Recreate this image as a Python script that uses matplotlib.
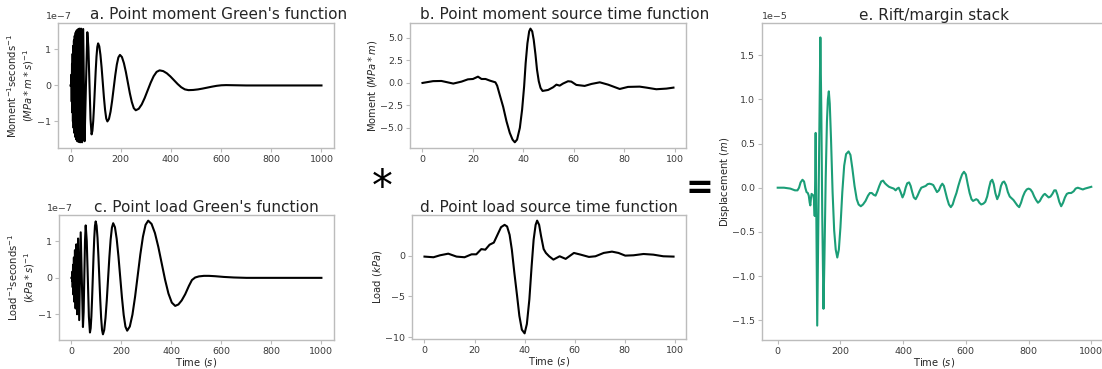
import matplotlib
matplotlib.use("Agg")
import matplotlib.pyplot as plt

# a. point moment Green's function (time in s, amplitude in 1e-7)
GREEN_MOMENT_T = [0, 3, 3.5, 4.8, 6, 7.2, 8.4, 9.6, 10.8, 12.2,
                  13.6, 15.2, 16.8, 18.6, 20.5, 22.5, 24.7, 27, 29.5, 32.2,
                  35.2, 38.4, 42, 46, 50.5, 56, 61.5, 67, 71.25, 75.5,
                  79.75, 84, 87.25, 90.5, 93.75, 97, 100.25, 103.5, 106.75, 110,
                  114.6, 119.25, 123.9, 128.5, 133.1, 137.75, 142.4, 147, 153.25, 159.5,
                  165.75, 172, 178.25, 184.5, 190.75, 197, 204.9, 212.75, 220.6, 228.5,
                  236.4, 244.25, 252.1, 260, 271.9, 283.75, 295.6, 307.5, 319.4, 331.25,
                  343.1, 355, 369.4, 383.75, 398.1, 412.5, 426.9, 441.25, 455.6, 470,
                  488.75, 507.5, 526, 545, 564, 582.5, 601, 620, 660, 700,
                  800, 900, 1000]
GREEN_MOMENT_V = [0, 0, 0.3, -0.45, 0.6, -0.75, 0.88, -1.0, 1.1, -1.18,
                  1.25, -1.32, 1.38, -1.43, 1.47, -1.5, 1.53, -1.55, 1.56, -1.57,
                  1.58, -1.58, 1.58, -1.58, 1.57, -1.55, 0.0, 1.48, 1.06, 0.06,
                  -0.94, -1.36, -1.26, -0.99, -0.58, -0.095, 0.39, 0.80, 1.07, 1.17,
                  1.09, 0.85, 0.50, 0.085, -0.33, -0.68, -0.92, -1.0, -0.93, -0.73,
                  -0.43, -0.075, 0.28, 0.58, 0.78, 0.85, 0.79, 0.62, 0.375, 0.08,
                  -0.215, -0.46, -0.63, -0.69, -0.648, -0.527, -0.347, -0.135, 0.077, 0.257,
                  0.378, 0.42, 0.399, 0.339, 0.25, 0.145, 0.04, -0.05, -0.109, -0.13,
                  -0.125, -0.11, -0.087, -0.06, -0.033, -0.01, 0.005, 0.01, 0.005, 0.0,
                  0, 0, 0]

# c. point load Green's function (time in s, amplitude in 1e-7)
GREEN_LOAD_T = [0, 1.8, 2.7, 3.8, 5, 6.4, 8, 9.8, 11.8, 14,
                16.5, 19.3, 22.5, 26.5, 31, 37, 46, 48.75, 51.5, 54.25,
                57, 61.25, 65.5, 69.75, 74, 76.9, 79.75, 82.6, 85.5, 88.4,
                91.25, 94.1, 97, 100.6, 104.25, 107.9, 111.5, 115.1, 118.75, 122.4,
                126, 131.1, 136.25, 141.4, 146.5, 151.6, 156.75, 161.9, 167, 174,
                181, 188, 195, 202, 209, 216, 223, 233.5, 244, 254.5,
                265, 275.5, 286, 296.5, 307, 320.5, 334, 347.5, 361, 374.5,
                388, 401.5, 415, 428, 441, 455, 470, 482, 495, 510,
                530, 550, 575, 610, 650, 700, 800, 1000]
GREEN_LOAD_V = [0, 0.03, -0.09, 0.17, -0.26, 0.36, -0.46, 0.56, -0.66, 0.76,
                -0.84, 0.92, -1.0, 1.08, -1.16, 1.25, -1.35, -0.94, 0.045, 1.03,
                1.44, 1.01, -0.03, -1.07, -1.5, -1.38, -1.05, -0.56, 0.025, 0.61,
                1.10, 1.43, 1.55, 1.43, 1.10, 0.59, 0, -0.59, -1.10, -1.43,
                -1.55, -1.43, -1.10, -0.61, -0.025, 0.56, 1.05, 1.38, 1.5, 1.39,
                1.07, 0.59, 0.025, -0.54, -1.02, -1.34, -1.45, -1.335, -1.01, -0.52,
                0.06, 0.64, 1.13, 1.455, 1.57, 1.48, 1.23, 0.85, 0.4, -0.05,
                -0.43, -0.68, -0.77, -0.73, -0.62, -0.45, -0.22, -0.06, 0.01, 0.04,
                0.055, 0.055, 0.045, 0.025, 0.01, 0, 0, 0]

# b. point moment source time function (MPa*m)
STF_MOMENT_T = [0, 4.2, 7.5, 12.2, 15.5, 18, 20, 22, 23.4, 25,
                26.7, 28.9, 29.6, 30.6, 32.0, 33.3, 34.6, 35.7, 36.6, 37.5,
                38.6, 39.5, 40.3, 40.9, 41.6, 42.3, 42.8, 43.5, 44.1, 44.8,
                45.4, 46.1, 46.8, 47.6, 49.8, 51.8, 53.1, 54.4, 55.7, 57.7,
                59, 61, 64.3, 67, 70.3, 73.6, 78.2, 81.5, 86.1, 88.8,
                92.7, 96.7, 99.5]
STF_MOMENT_V = [0.0, 0.2, 0.22, -0.07, 0.15, 0.4, 0.44, 0.7, 0.44, 0.44,
                0.26, 0.07, -0.3, -1.3, -2.67, -4.26, -5.55, -6.3, -6.6, -6.3,
                -5.0, -2.96, -0.37, 2.2, 4.4, 5.74, 6.04, 5.74, 4.8, 3.15,
                1.48, 0.19, -0.55, -0.89, -0.78, -0.48, -0.19, -0.3, -0.07, 0.19,
                0.15, -0.22, -0.33, -0.11, 0.07, -0.19, -0.67, -0.44, -0.41, -0.52,
                -0.7, -0.63, -0.52]

# d. point load source time function (kPa)
STF_LOAD_T = [0, 3.6, 6.2, 9.5, 12.8, 16, 18.8, 20.7, 22.7, 24.3,
              26, 27.7, 29.6, 30.6, 32.0, 33.0, 34.0, 34.9, 35.9, 37.0,
              37.9, 38.9, 40.0, 40.9, 41.9, 42.8, 43.6, 44.4, 45.0, 45.8,
              46.6, 47.6, 48.5, 49.8, 51.5, 54, 56.4, 59.7, 62.4, 65.7,
              68.3, 71.6, 74.9, 77.5, 80.2, 83.5, 87.5, 91.4, 95.4, 99.5]
STF_LOAD_V = [-0.12, -0.2, 0.04, 0.24, -0.12, -0.2, 0.16, 0.16, 0.8, 0.73,
              1.34, 1.6, 2.85, 3.5, 3.78, 3.58, 2.56, 0.73, -2.1, -4.96,
              -7.4, -9.1, -9.55, -8.4, -5.37, -1.3, 1.95, 3.78, 4.3, 3.78,
              2.36, 0.81, 0.33, -0.08, -0.49, -0.08, -0.4, 0.33, 0.12, -0.16,
              -0.08, 0.33, 0.49, 0.33, 0.0, 0.04, 0.2, 0.12, -0.08, -0.12]

# e. rift/margin stack (time in s, displacement in 1e-5 m)
STACK_T = [0, 20, 40, 55, 63, 68, 73, 79, 84, 88,
           92, 96, 99, 102, 104, 106, 108, 111, 114, 116,
           118, 119.5, 121, 123, 126, 129, 132, 136, 139, 142,
           146, 149, 153, 157, 160, 163, 166, 170, 175, 180,
           185, 190, 195, 200, 206, 212, 218, 226, 232, 238,
           245, 252, 258, 265, 272, 280, 288, 294, 300, 306,
           312, 318, 324, 330, 336, 342, 348, 355, 362, 370,
           376, 381, 386, 392, 398, 403, 408, 413, 419, 424,
           429, 434, 440, 446, 452, 458, 465, 472, 478, 484,
           490, 496, 502, 508, 514, 520, 525, 530, 535, 540,
           546, 552, 558, 564, 570, 576, 582, 588, 594, 600,
           606, 612, 618, 623, 628, 633, 638, 643, 649, 656,
           662, 668, 674, 679, 684, 689, 694, 700, 706, 712,
           717, 722, 728, 734, 740, 746, 752, 758, 764, 770,
           776, 782, 788, 794, 800, 806, 812, 818, 824, 830,
           836, 842, 848, 852, 858, 864, 870, 876, 882, 887,
           892, 898, 904, 910, 916, 922, 928, 936, 944, 950,
           957, 965, 973, 980, 990, 1000]
STACK_V = [0, 0, -0.01, -0.03, -0.03, 0.0, 0.06, 0.09, 0.07, 0.0,
           -0.05, -0.06, -0.09, -0.17, -0.2, -0.12, -0.07, -0.08, -0.09, -0.15,
           -0.32, 0.1, 0.62, -0.3, -1.56, -0.6, 0.4, 1.70, 0.9, -0.3,
           -1.37, -0.8, 0.1, 0.75, 1.0, 1.09, 0.95, 0.55, -0.05, -0.48,
           -0.7, -0.79, -0.7, -0.45, -0.05, 0.25, 0.38, 0.41, 0.37, 0.22,
           0.02, -0.13, -0.19, -0.21, -0.19, -0.15, -0.09, -0.06, -0.06, -0.08,
           -0.09, -0.04, 0.02, 0.07, 0.08, 0.05, 0.03, 0.01, 0.0, -0.01,
           -0.03, -0.01, 0.0, -0.05, -0.11, -0.07, 0.0, 0.05, 0.06, 0.02,
           -0.05, -0.11, -0.13, -0.09, -0.04, 0.0, 0.01, 0.02, 0.04, 0.045,
           0.04, 0.03, -0.01, -0.05, -0.03, 0.02, 0.045, 0.02, -0.05, -0.12,
           -0.19, -0.22, -0.19, -0.12, -0.06, 0.02, 0.09, 0.15, 0.18, 0.15,
           0.04, -0.06, -0.13, -0.15, -0.14, -0.13, -0.14, -0.17, -0.19, -0.18,
           -0.16, -0.1, 0.0, 0.07, 0.09, 0.04, -0.06, -0.13, -0.08, 0.02,
           0.06, 0.07, 0.03, -0.05, -0.1, -0.12, -0.14, -0.17, -0.2, -0.22,
           -0.17, -0.1, -0.05, -0.02, -0.01, -0.02, -0.05, -0.1, -0.14, -0.17,
           -0.15, -0.11, -0.08, -0.07, -0.09, -0.11, -0.1, -0.07, -0.03, -0.03,
           -0.08, -0.16, -0.21, -0.17, -0.11, -0.07, -0.06, -0.06, -0.04, -0.01,
           0.0, -0.01, -0.02, -0.01, 0.0, 0.01]

TITLES = ["a. Point moment Green's function",
          "b. Point moment source time function",
          "c. Point load Green's function",
          "d. Point load source time function",
          "e. Rift/margin stack"]

SPINE_GRAY = '#bcbcbc'
TEXT_DARK = '#262626'


def style_axes(ax):
    for s in ax.spines.values():
        s.set_color(SPINE_GRAY)
        s.set_linewidth(1.0)
    ax.tick_params(colors=SPINE_GRAY, labelcolor='#3a3a3a', labelsize=6.8,
                   length=3, width=0.8, pad=2)
    ax.yaxis.get_offset_text().set_fontsize(6.8)
    ax.yaxis.get_offset_text().set_color('#3a3a3a')


def main():
    fig = plt.figure(figsize=(11.02, 3.69), dpi=100)

    ax_a = fig.add_axes([0.0526, 0.599, 0.2505, 0.3388])
    ax_b = fig.add_axes([0.372, 0.599, 0.2505, 0.3388])
    ax_c = fig.add_axes([0.0535, 0.0786, 0.2495, 0.3388])
    ax_d = fig.add_axes([0.3739, 0.0813, 0.2486, 0.3361])
    ax_e = fig.add_axes([0.6915, 0.0786, 0.313, 0.859])

    # Green's functions
    ax_a.plot(GREEN_MOMENT_T, [v * 1e-7 for v in GREEN_MOMENT_V], color='black', lw=1.5)
    ax_c.plot(GREEN_LOAD_T, [v * 1e-7 for v in GREEN_LOAD_V], color='black', lw=1.5)
    ax_a.set_ylabel("Moment$^{-1}$seconds$^{-1}$\n$(MPa*m*s)^{-1}$", fontsize=7.2,
                    color=TEXT_DARK, labelpad=1)
    ax_c.set_ylabel("Load$^{-1}$seconds$^{-1}$\n$(kPa*s)^{-1}$", fontsize=7.2,
                    color=TEXT_DARK, labelpad=1)

    # source time functions
    ax_b.plot(STF_MOMENT_T, STF_MOMENT_V, color='black', lw=1.5)
    ax_d.plot(STF_LOAD_T, STF_LOAD_V, color='black', lw=1.5)
    ax_b.set_ylabel("Moment $(MPa*m)$", fontsize=7.2, color=TEXT_DARK, labelpad=1)
    ax_d.set_ylabel("Load $(kPa)$", fontsize=7.2, color=TEXT_DARK, labelpad=1)

    # stack
    ax_e.plot(STACK_T, [v * 1e-5 for v in STACK_V], color='#1b9e77', lw=1.5)
    ax_e.set_ylabel("Displacement $(m)$", fontsize=7.2, color=TEXT_DARK, labelpad=0)

    for ax in [ax_c, ax_d, ax_e]:
        ax.set_xlabel("Time $(s)$", fontsize=7.2, color=TEXT_DARK, labelpad=0)

    title_x = [0.58, 0.56, 0.535, 0.5, 0.5]
    for ax, t, x in zip([ax_a, ax_b, ax_c, ax_d, ax_e], TITLES, title_x):
        ax.set_title(t, fontsize=11, color=TEXT_DARK, x=x, pad=2.5)
        style_axes(ax)

    # the 1e-7 offsets sit a bit left of the spine
    for ax in [ax_a, ax_c]:
        ax.yaxis.get_offset_text().set_x(-0.043)

    # operators between panels
    fig.text(0.347, 0.49, "*", fontsize=30, ha='center', va='center', color='black')
    fig.text(0.635, 0.49, "=", fontsize=24, ha='center', va='center', color='black',
             fontweight='bold')

    fig.savefig("out.png", dpi=100)


if __name__ == "__main__":
    main()
